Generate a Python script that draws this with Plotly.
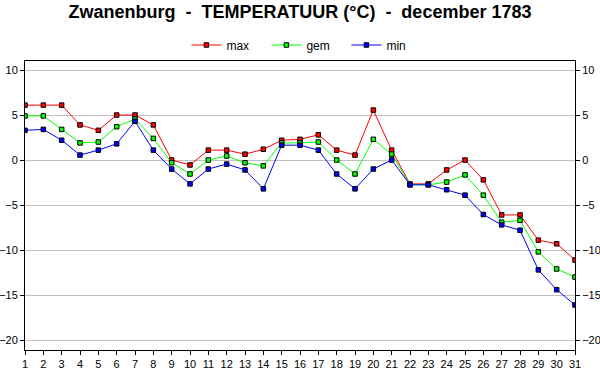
import plotly.graph_objects as go

days = list(range(1, 32))
t_max = [6.1, 6.1, 6.1, 3.9, 3.3, 5.0, 5.0, 3.9, 0.0, -0.55,
         1.1, 1.1, 0.65, 1.2, 2.2, 2.3, 2.8, 1.1, 0.55, 5.55,
         1.1, -2.65, -2.65, -1.1, 0.0, -2.2, -6.1, -6.1, -8.9, -9.3, -11.1]
t_gem = [4.9, 4.9, 3.4, 1.9, 2.0, 3.7, 4.55, 2.4, -0.3, -1.55,
         0.0, 0.45, -0.3, -0.65, 1.9, 1.9, 2.0, 0.0, -1.55, 2.3,
         0.65, -2.75, -2.75, -2.45, -1.65, -3.9, -6.9, -6.7, -10.2, -12.1, -13.0]
t_min = [3.3, 3.4, 2.2, 0.55, 1.1, 1.8, 4.3, 1.1, -1.0, -2.65,
         -1.0, -0.45, -1.1, -3.2, 1.65, 1.65, 1.1, -1.55, -3.2, -1.0,
         0.0, -2.75, -2.75, -3.3, -3.9, -6.05, -7.2, -7.8, -12.2, -14.4, -16.1]
y_ticks = [10, 5, 0, -5, -10, -15, -20]

series = [("max", t_max, "#FF0000"), ("gem", t_gem, "#00FF00"), ("min", t_min, "#0000FF")]

fig = go.Figure()
for name, vals, col in series:
    fig.add_trace(go.Scatter(
        x=days, y=vals, name=name, mode="lines+markers",
        line=dict(color=col, width=1),
        marker=dict(symbol="square", size=4.5, color=col, line=dict(color="black", width=1)),
    ))

yr = [-21.1, 11.0]
fig.update_layout(
    width=600, height=390,
    margin=dict(l=25, r=25, t=61, b=40),
    paper_bgcolor="white", plot_bgcolor="white",
    font=dict(family="Arial, Liberation Sans", size=11, color="black"),
    title=dict(text="<b>Zwanenburg\u00a0 -\u00a0 TEMPERATUUR (°C)\u00a0 -\u00a0 december 1783</b>",
               x=0.5, xanchor="center", y=1 - 12 / 390, yanchor="middle",
               font=dict(size=18, color="black")),
    legend=dict(orientation="h", x=0.5 + 7 / 600, xanchor="center", y=1 - 45 / 390, yanchor="middle",
                yref="container",
                font=dict(size=12), entrywidth=35, entrywidthmode="pixels",
                bgcolor="rgba(0,0,0,0)"),
    showlegend=True,
    xaxis=dict(range=[1, 31], tickmode="array", tickvals=days, ticktext=[str(d) for d in days],
               showgrid=False, zeroline=False, showline=True, linecolor="black", linewidth=1,
               mirror=True, ticks="outside", ticklen=4, tickcolor="black", automargin=False),
    yaxis=dict(range=yr, tickmode="array", tickvals=y_ticks, showgrid=True, gridcolor="#C0C0C0",
               gridwidth=1, zeroline=False, showline=True, linecolor="black", linewidth=1,
               ticks="outside", ticklen=4, tickcolor="black", automargin=False),
    yaxis2=dict(range=yr, tickmode="array", tickvals=y_ticks, overlaying="y", side="right",
                showgrid=False, zeroline=False, showline=True, linecolor="black", linewidth=1,
                ticks="outside", ticklen=4, tickcolor="black", automargin=False),
)
fig.add_trace(go.Scatter(x=[1], y=[0], yaxis="y2", showlegend=False, hoverinfo="skip",
                         mode="markers", marker=dict(opacity=0)))
fig.write_html("out.html", config={"displayModeBar": False},
               post_script="document.body.style.margin='0';")
